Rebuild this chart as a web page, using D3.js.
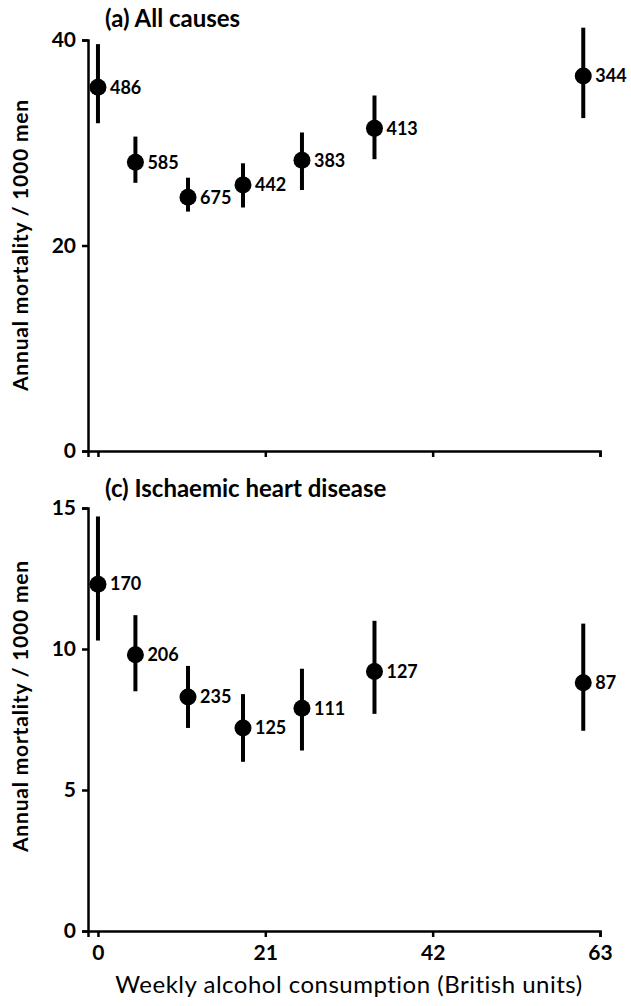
<!DOCTYPE html>
<html>
<head>
<meta charset="utf-8">
<script src="https://cdn.jsdelivr.net/npm/d3@7"></script>
<style>
  body { margin: 0; background: #fff; }
  svg text { fill: #000; }
</style>
</head>
<body>
<div id="chart"></div>
<script>
// weekly alcohol (british units), same groups in both panels
const units = [0, 4.7, 11.3, 18.2, 25.6, 34.7, 60.9];

// (a) all causes
const allMean = [35.4, 28.1, 24.7, 25.9, 28.3, 31.4, 36.5];
const allLow = [31.9, 26.1, 23.3, 23.7, 25.4, 28.4, 32.4];
const allHigh = [39.6, 30.6, 26.6, 28.0, 31.0, 34.6, 41.2];
const allDeaths = [486, 585, 675, 442, 383, 413, 344];

// (c) ischaemic heart disease
const ihdMean = [12.3, 9.8, 8.3, 7.2, 7.9, 9.2, 8.8];
const ihdLow = [10.3, 8.5, 7.2, 6.0, 6.4, 7.7, 7.1];
const ihdHigh = [14.7, 11.2, 9.4, 8.4, 9.3, 11.0, 10.9];
const ihdDeaths = [170, 206, 235, 125, 111, 127, 87];

const xTicks = [0, 21, 42, 63];
const allTicks = [0, 20, 40];
const ihdTicks = [0, 5, 10, 15];

const width = 631, height = 1006;
const numFont = 'Lato, sans-serif';

const svg = d3.select('#chart').append('svg')
    .attr('width', width)
    .attr('height', height);

const x = d3.scaleLinear()
    .domain([-1.25, 63])
    .range([88, 600]);

const drawPanel = ({title, titleY, yMax, yTicks, top, bottom, mean, low, high, deaths, showXLabels, labelY}) => {
    let y = d3.scaleLinear()
        .domain([0, yMax])
        .range([bottom, top]);

    let g = svg.append('g');

    // x axis
    let xa = g.append('g')
        .attr('transform', 'translate(0,' + bottom + ')')
        .call(d3.axisBottom(x).tickValues(xTicks).tickSizeOuter(0).tickSize(6).tickPadding(8));
    xa.select('.domain').attr('stroke-width', 2.5);
    xa.selectAll('.tick line').attr('stroke-width', 2.5);
    xa.selectAll('.tick text')
        .style('font-family', numFont)
        .style('font-size', '21px')
        .style('font-weight', 'bold')
        .style('display', showXLabels ? null : 'none');

    // y axis
    let ya = g.append('g')
        .attr('transform', 'translate(88,0)')
        .call(d3.axisLeft(y).tickValues(yTicks).tickSizeOuter(0).tickSize(6).tickPadding(6));
    ya.select('.domain').attr('stroke-width', 2.5);
    ya.selectAll('.tick line').attr('stroke-width', 2.5);
    ya.selectAll('.tick text')
        .style('font-family', numFont)
        .style('font-size', '21px')
        .style('font-weight', 'bold');

    g.append('text')
        .attr('x', 105)
        .attr('y', titleY)
        .style('font-family', 'Lato, sans-serif')
        .style('font-weight', 'bold')
        .style('font-size', '24px')
        .text(title);

    g.append('text')
        .attr('transform', 'translate(28,' + labelY + ')rotate(-90)')
        .attr('text-anchor', 'middle')
        .style('font-family', 'Lato, sans-serif')
        .style('font-size', '21px')
        .style('letter-spacing', '0.8px')
        .style('font-weight', 'bold')
        .text('Annual mortality / 1000 men');

    let pts = units.map((u, i) => ({u, m: mean[i], lo: low[i], hi: high[i], n: deaths[i]}));

    g.selectAll('line.err')
        .data(pts)
        .enter().append('line')
        .attr('class', 'err')
        .attr('x1', d => x(d.u))
        .attr('x2', d => x(d.u))
        .attr('y1', d => y(d.lo))
        .attr('y2', d => y(d.hi))
        .attr('stroke', '#000')
        .attr('stroke-width', 4);

    g.selectAll('circle.pt')
        .data(pts)
        .enter().append('circle')
        .attr('class', 'pt')
        .attr('cx', d => x(d.u))
        .attr('cy', d => y(d.m))
        .attr('r', 8.5)
        .attr('fill', '#000');

    g.selectAll('text.n')
        .data(pts)
        .enter().append('text')
        .attr('class', 'n')
        .attr('x', d => x(d.u) + 12)
        .attr('y', d => y(d.m))
        .attr('dy', '0.35em')
        .style('font-family', numFont)
        .style('font-size', '18px')
        .style('font-weight', 'bold')
        .text(d => d.n);
};

drawPanel({
    title: '(a) All causes', titleY: 27, yMax: 40, yTicks: allTicks,
    top: 40, bottom: 451, mean: allMean, low: allLow, high: allHigh, deaths: allDeaths,
    showXLabels: false, labelY: 245
});

drawPanel({
    title: '(c) Ischaemic heart disease', titleY: 497, yMax: 15, yTicks: ihdTicks,
    top: 508, bottom: 931, mean: ihdMean, low: ihdLow, high: ihdHigh, deaths: ihdDeaths,
    showXLabels: true, labelY: 706
});

svg.append('text')
    .attr('x', x(31.5))
    .attr('y', 993)
    .attr('text-anchor', 'middle')
    .style('font-family', 'Lato, sans-serif')
    .style('font-size', '24px')
    .style('letter-spacing', '0.5px')
    .text('Weekly alcohol consumption (British units)');
</script>
</body>
</html>
